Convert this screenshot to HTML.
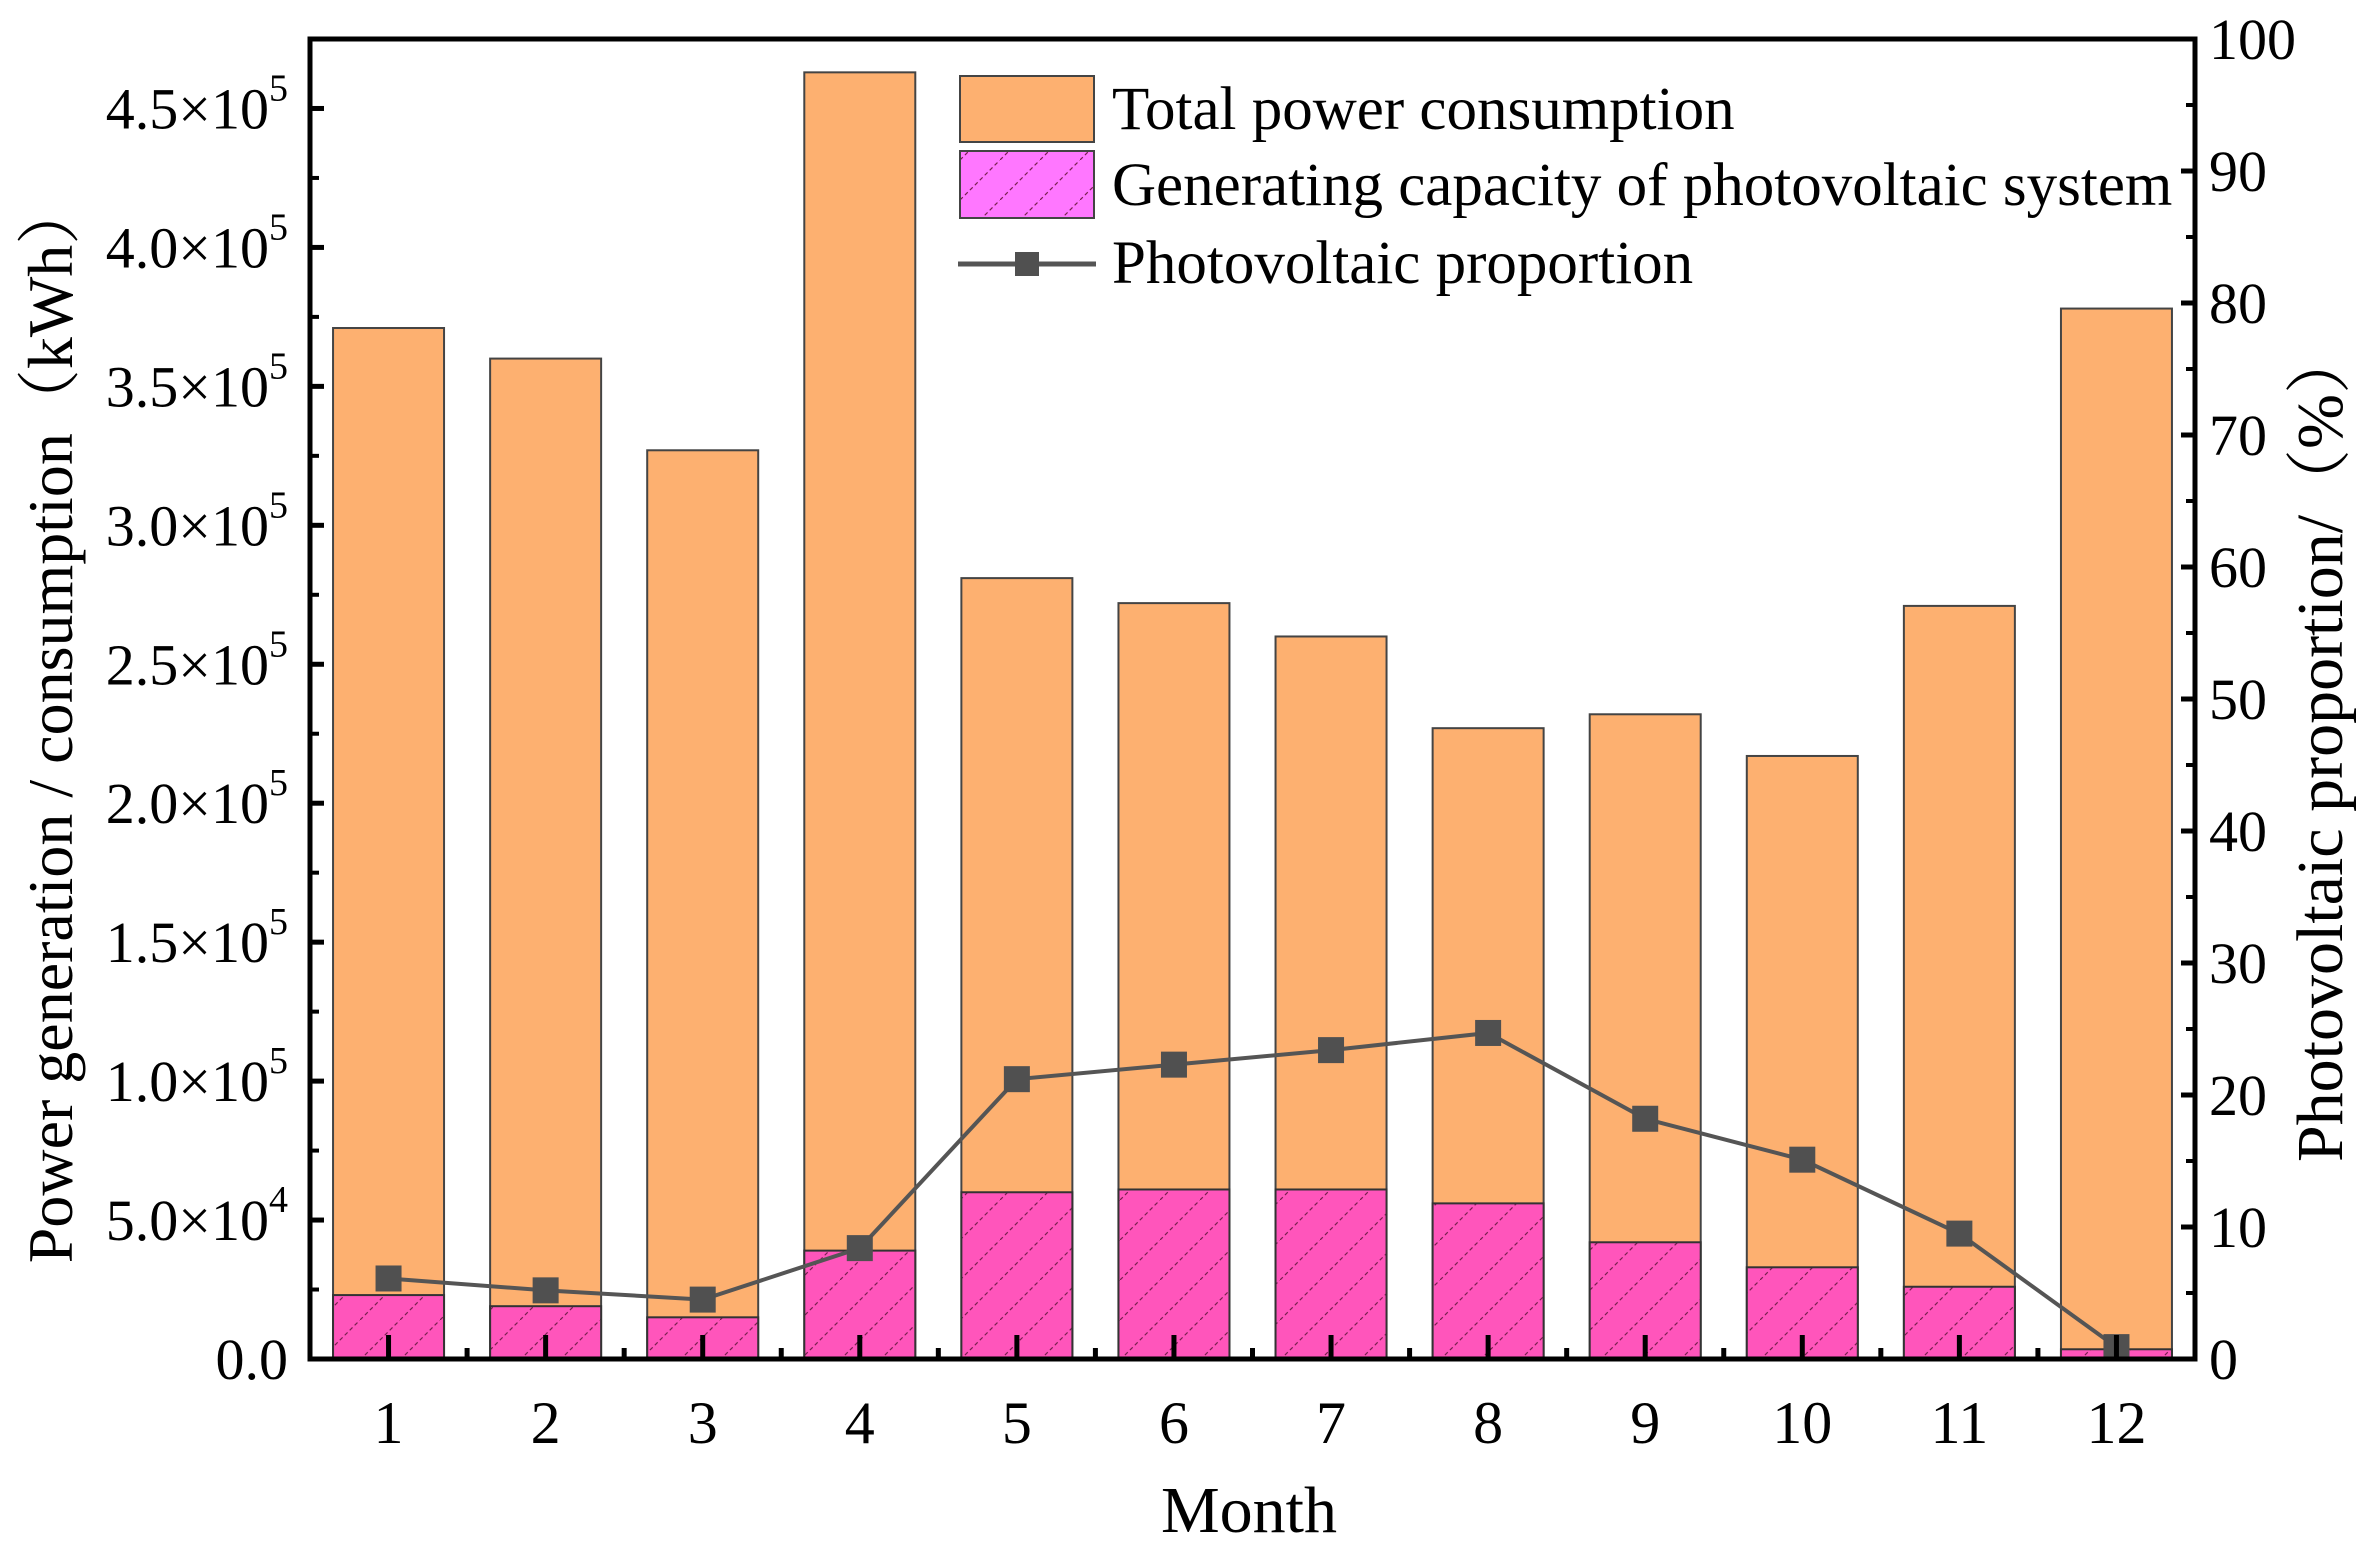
<!DOCTYPE html>
<html><head><meta charset="utf-8"><style>
html,body{margin:0;padding:0;background:#fff}
svg{display:block;font-family:"Liberation Serif","Noto Serif CJK SC",serif}
</style></head><body>
<svg id="chart" width="2370" height="1543" viewBox="0 0 2370 1543" xmlns="http://www.w3.org/2000/svg">
<defs>
<pattern id="hatch" patternUnits="userSpaceOnUse" width="40" height="40">
<rect width="40" height="40" fill="#FF55BB"/>
<path d="M0 40 L40 0" stroke="#7a2050" stroke-width="1.2" stroke-dasharray="4,3"/>
</pattern>
<pattern id="hatchL" patternUnits="userSpaceOnUse" width="40" height="40">
<rect width="40" height="40" fill="#FF77FF"/>
<path d="M0 40 L40 0" stroke="#7a2050" stroke-width="1.2" stroke-dasharray="4,3"/>
</pattern>
</defs>
<g id="bars"></g>
<g id="line"></g>
<g id="axes"></g>
<g id="legend">
<rect x="960" y="76" width="134" height="66" fill="#FDB070" stroke="#444" stroke-width="2"/>
<text x="1112" y="129" font-size="61">Total power consumption</text>
<rect x="960" y="151" width="134" height="67" fill="url(#hatchL)" stroke="#444" stroke-width="2"/>
<text x="1112" y="205" font-size="61">Generating capacity of photovoltaic system</text>
<line x1="958" y1="264" x2="1096" y2="264" stroke="#555" stroke-width="5"/>
<rect x="1015" y="252" width="24" height="24" fill="#505050"/>
<text x="1112" y="283" font-size="61">Photovoltaic proportion</text>
</g>
<text transform="translate(72,722) rotate(-90)" text-anchor="middle" font-size="64">Power generation / consumption（kWh）</text>
<text transform="translate(2342,745) rotate(-90)" text-anchor="middle" font-size="66">Photovoltaic proportion/（%）</text>
<text x="1249" y="1532" text-anchor="middle" font-size="66">Month</text>
</svg>
<script>
const months = ["1","2","3","4","5","6","7","8","9","10","11","12"];
const totalConsumption = [371000,360000,327000,463000,281000,272000,260000,227000,232000,217000,271000,378000];
const pvGeneration = [23000,19000,15000,39000,60000,61000,61000,56000,42000,33000,26000,3500];
const pvProportion = [6.1,5.2,4.5,8.4,21.2,22.3,23.4,24.7,18.2,15.1,9.5,0.9];
const leftTicks = [0,0.5,1.0,1.5,2.0,2.5,3.0,3.5,4.0,4.5];
const leftTickLabels = ["0.0","5.0×10|4","1.0×10|5","1.5×10|5","2.0×10|5","2.5×10|5","3.0×10|5","3.5×10|5","4.0×10|5","4.5×10|5"];
const rightTicks = [0,10,20,30,40,50,60,70,80,90,100];

const NS="http://www.w3.org/2000/svg";
const L=310,R=2195,T=39,B=1359;
const yMax=475000;
const xs=i=>L+(i+0.5)*(R-L)/12;
const yL=v=>B-v/yMax*(B-T);
const yR=v=>B-v/100*(B-T);
const bw=111;
function mk(tag,attrs,parent){const e=document.createElementNS(NS,tag);for(const k in attrs)e.setAttribute(k,attrs[k]);parent.appendChild(e);return e;}
const gb=document.getElementById('bars'),gl=document.getElementById('line'),ga=document.getElementById('axes');

months.forEach((m,i)=>{
  const x=xs(i)-bw/2;
  const r=mk('rect',{x:x,y:yL(totalConsumption[i]),width:bw,height:B-yL(totalConsumption[i]),fill:'#FDB070',stroke:'#444','stroke-width':2},gb);
  
  
  const p=mk('rect',{x:x,y:yL(pvGeneration[i]),width:bw,height:B-yL(pvGeneration[i]),fill:'url(#hatch)',stroke:'#333','stroke-width':2},gb);
  
  
});
const pts=pvProportion.map((v,i)=>xs(i)+','+yR(v)).join(' ');
const pl=mk('polyline',{points:pts,fill:'none',stroke:'#555','stroke-width':4},gl);


pvProportion.forEach((v,i)=>{
  const s=mk('rect',{x:xs(i)-13,y:yR(v)-13,width:26,height:26,fill:'#505050'},gl);
  
  
});
const fr=mk('path',{d:`M${L} ${T} H${R} V${B} H${L} Z`,fill:'none',stroke:'#000','stroke-width':5},ga);


leftTicks.forEach((t,i)=>{
  const y=yL(t*1e5);
  mk('line',{x1:L,x2:L+14,y1:y,y2:y,stroke:'#000','stroke-width':5},ga);
  const ym=yL((t+0.25)*1e5);if(ym>T+5)mk('line',{x1:L,x2:L+9,y1:ym,y2:ym,stroke:'#000','stroke-width':4},ga);
  const parts=leftTickLabels[i].split('|');
  const tx=mk('text',{x:288,y:y+20,'text-anchor':'end','font-size':58},ga);
  
  
  tx.appendChild(document.createTextNode(parts[0]));
  if(parts[1]){const ts=mk('tspan',{dy:-28,'font-size':38},tx);ts.textContent=parts[1];}
});
rightTicks.forEach((t,i)=>{
  const y=yR(t);
  mk('line',{x1:R-14,x2:R,y1:y,y2:y,stroke:'#000','stroke-width':5},ga);
  if(t<100){const ym=yR(t+5);mk('line',{x1:R-9,x2:R,y1:ym,y2:ym,stroke:'#000','stroke-width':4},ga);}
  const tx=mk('text',{x:R+14,y:y+20,'font-size':58},ga);
  
  
  tx.textContent=t;
});
months.forEach((m,i)=>{
  const x=xs(i);
  mk('line',{x1:x,x2:x,y1:B,y2:B-24,stroke:'#000','stroke-width':5},ga);
  if(i<11)mk('line',{x1:x+(R-L)/24,x2:x+(R-L)/24,y1:B,y2:B-11,stroke:'#000','stroke-width':5},ga);
  const tx=mk('text',{x:x,y:1443,'text-anchor':'middle','font-size':60},ga);
  
  
  tx.textContent=m;
});
</script>
</body></html>
